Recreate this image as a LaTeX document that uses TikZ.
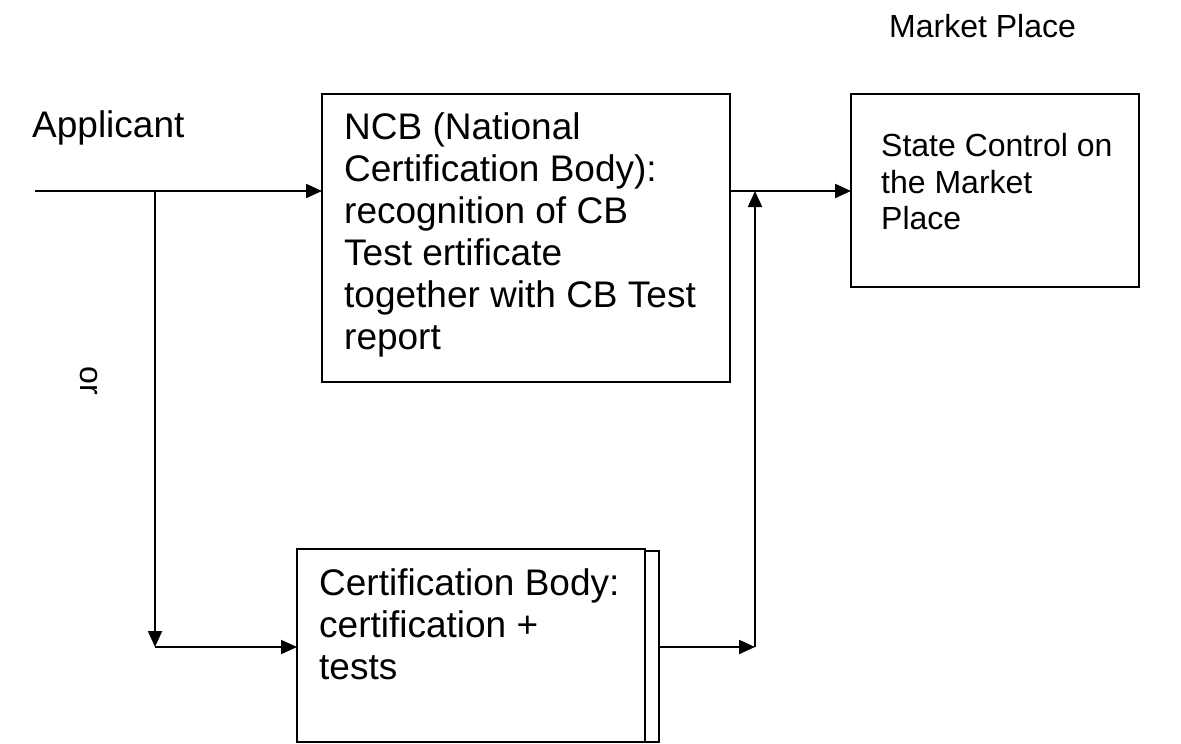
\documentclass[tikz,border=0pt]{standalone}
\usepackage{fontspec}
\setmainfont{Liberation Sans}
\usetikzlibrary{arrows.meta}
\tikzset{
  box/.style={draw, line width=2pt, rectangle, inner sep=0pt, outer sep=0pt, anchor=north west},
  big/.style={font=\fontsize{37}{42}\selectfont, inner sep=0pt, align=left},
  small/.style={font=\fontsize{32}{36.5}\selectfont, inner sep=0pt, align=left},
  conn/.style={line width=2pt, -{Triangle[length=16pt,width=14pt]}}
}
\begin{document}
\begin{tikzpicture}[x=1pt,y=-1pt]
\useasboundingbox (0,0) rectangle (1181,744);
% boxes
\node[box, minimum width=408pt, minimum height=288pt] (ncb) at (322,94) {};
\node[box, minimum width=288pt, minimum height=193pt] (state) at (851,94) {};
\node[box, minimum width=348pt, minimum height=193pt] (cb) at (297,549) {};
\node[box, minimum width=14pt, minimum height=191pt] (cbs) at (645,551) {};
% texts
\node[big, anchor=base west] (applicant) at (32,137) {Applicant};
\node[small, anchor=base west] (market) at (889,37) {Market Place};
\node[big, anchor=north west] (ncbtext) at (344,112) {NCB (National\\Certification Body):\\recognition of CB\\Test ertificate\\together with CB Test\\report};
\node[small, anchor=north west] (statetext) at (881,133.5) {State Control on\\the Market\\Place};
\node[big, anchor=north west] (cbtext) at (319,568) {Certification Body:\\certification +\\tests};
\node[small, rotate=-90] (or) at (89,381) {or};
% coordinates
\coordinate (start) at (35,191);
\coordinate (split) at (155,191);
\coordinate (corner) at (155,647);
\coordinate (join) at (755,647);
\coordinate (merge) at (755,191);
% connectors
\draw[conn] (start) -- (split) -- (ncb.west |- split);
\draw[conn] (split) -- (corner);
\draw[conn] (corner) -- (cb.west |- corner);
\draw[conn] (cbs.east |- join) -- (join);
\draw[conn] (join) -- (merge);
\draw[conn] (ncb.east |- merge) -- (state.west |- merge);
\end{tikzpicture}
\end{document}
